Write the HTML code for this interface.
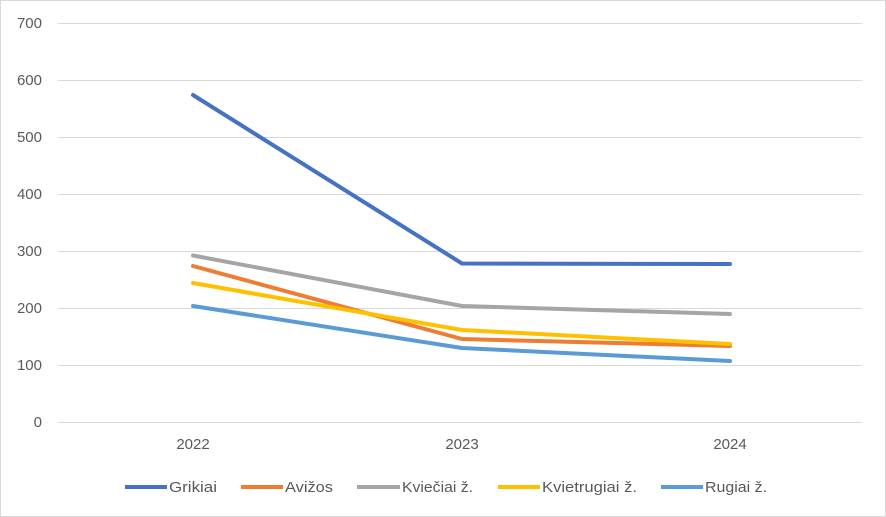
<!DOCTYPE html>
<html><head><meta charset="utf-8"><style>body{margin:0;background:#fff}svg{display:block}</style></head><body>
<svg width="886" height="517" xmlns="http://www.w3.org/2000/svg" font-family="Liberation Sans, sans-serif">
<rect x="0.5" y="0.5" width="885" height="516" fill="#fff" stroke="#d9d9d9"/>
<g stroke="#d9d9d9" stroke-width="1">
<line x1="58" x2="862" y1="23.5" y2="23.5"/><line x1="58" x2="862" y1="80.5" y2="80.5"/><line x1="58" x2="862" y1="137.5" y2="137.5"/><line x1="58" x2="862" y1="194.5" y2="194.5"/><line x1="58" x2="862" y1="251.5" y2="251.5"/><line x1="58" x2="862" y1="308.5" y2="308.5"/><line x1="58" x2="862" y1="365.5" y2="365.5"/><line x1="58" x2="862" y1="422.5" y2="422.5"/>
</g>
<g fill="#595959" font-size="15" text-anchor="end">
<text x="42" y="28">700</text><text x="42" y="85">600</text><text x="42" y="142">500</text><text x="42" y="199">400</text><text x="42" y="256">300</text><text x="42" y="313">200</text><text x="42" y="370">100</text><text x="42" y="427">0</text>
</g>
<g fill="#595959" font-size="15" text-anchor="middle">
<text x="193" y="449">2022</text><text x="462" y="449">2023</text><text x="730" y="449">2024</text>
</g>
<g fill="none" stroke-width="4" stroke-linecap="round" stroke-linejoin="round">
<polyline stroke="#4472c4" points="193,95 462,263.5 730,264"/>
<polyline stroke="#a5a5a5" points="193,255.5 462,306 730,314"/>
<polyline stroke="#ed7d31" points="193,266 462,339 730,346"/>
<polyline stroke="#ffc000" points="193,283 462,330 730,344"/>
<polyline stroke="#5b9bd5" points="193,306 462,348 730,361"/>
</g>
<g stroke-width="4">
<line x1="125" x2="167" y1="487" y2="487" stroke="#4472c4"/>
<line x1="241" x2="283" y1="487" y2="487" stroke="#ed7d31"/>
<line x1="357" x2="400" y1="487" y2="487" stroke="#a5a5a5"/>
<line x1="498" x2="540" y1="487" y2="487" stroke="#ffc000"/>
<line x1="661" x2="703" y1="487" y2="487" stroke="#5b9bd5"/>
</g>
<g fill="#595959" font-size="15">
<text x="169" y="492" textLength="48" lengthAdjust="spacingAndGlyphs">Grikiai</text>
<text x="285" y="492" textLength="48" lengthAdjust="spacingAndGlyphs">Avižos</text>
<text x="402" y="492" textLength="71" lengthAdjust="spacingAndGlyphs">Kviečiai ž.</text>
<text x="542" y="492" textLength="95" lengthAdjust="spacingAndGlyphs">Kvietrugiai ž.</text>
<text x="705" y="492" textLength="62" lengthAdjust="spacingAndGlyphs">Rugiai ž.</text>
</g>
</svg>
</body></html>
